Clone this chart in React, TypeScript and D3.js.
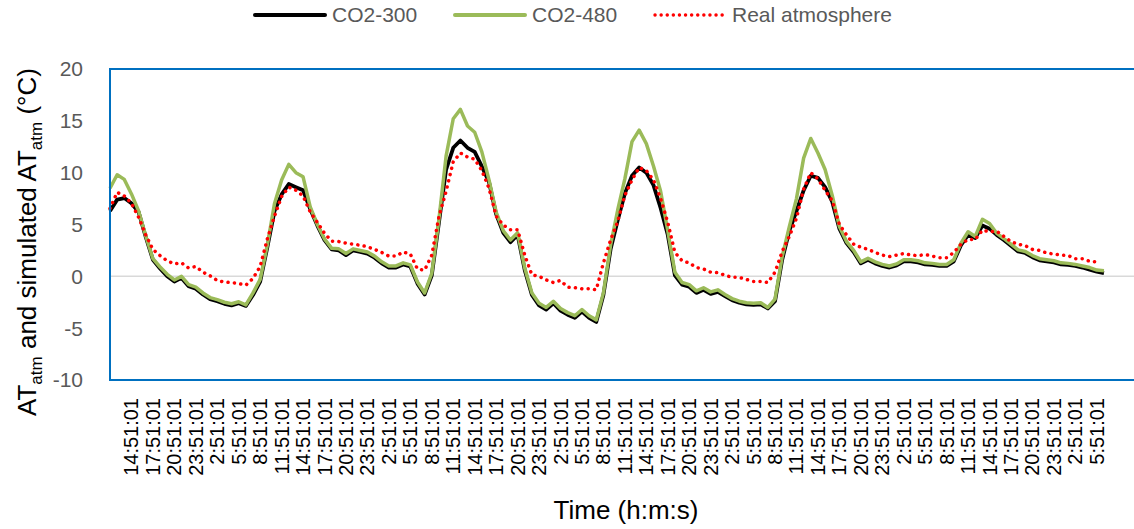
import React from "react";
import * as d3 from "d3";

const W = 1134;
const H = 529;

// hourly samples, hour 0 = 11:51:01 of the first day
const co2_300: number[] = [
  6.3, 7.4, 7.55, 7.05, 6.2, 3.8, 1.6, 0.75, 0.0, -0.5,
  -0.15, -0.95, -1.2, -1.75, -2.2, -2.4, -2.65, -2.8, -2.6, -2.85,
  -1.8, -0.5, 2.8, 6.3, 7.9, 8.9, 8.6, 8.3, 6.5, 4.9,
  3.5, 2.6, 2.5, 2.05, 2.5, 2.35, 2.2, 1.8, 1.25, 0.85,
  0.85, 1.15, 0.95, -0.7, -1.75, 0.1, 5.2, 10.3, 12.4, 13.1,
  12.4, 12.0, 10.6, 9.1, 6.0, 4.2, 3.3, 4.0, 0.6, -1.8,
  -2.8, -3.2, -2.6, -3.3, -3.7, -4.0, -3.4, -4.0, -4.4, -1.8,
  2.6, 5.4, 8.0, 9.7, 10.5, 10.0, 8.8, 6.6, 4.0, 0.1,
  -0.8, -1.0, -1.6, -1.3, -1.7, -1.5, -1.9, -2.3, -2.55, -2.7,
  -2.75, -2.7, -3.1, -2.4, 1.6, 4.4, 6.3, 8.3, 9.7, 9.5,
  8.6, 7.2, 4.6, 3.2, 2.35, 1.25, 1.6, 1.25, 1.0, 0.85,
  1.05, 1.45, 1.45, 1.35, 1.15, 1.1, 1.0, 1.0, 1.45, 3.0,
  4.0, 3.7, 4.9, 4.6, 4.0, 3.5, 2.95, 2.4, 2.25, 1.85,
  1.55, 1.45, 1.35, 1.15, 1.1, 1.0, 0.85, 0.65, 0.45, 0.3,
];

const co2_480: number[] = [
  8.5, 9.8, 9.35, 7.95, 6.3, 3.9, 1.7, 0.9, 0.2, -0.35,
  0.0, -0.8, -1.05, -1.6, -2.05, -2.25, -2.5, -2.65, -2.45, -2.75,
  -1.6, -0.3, 3.0, 7.0, 9.3, 10.8, 10.0, 9.6, 6.7, 5.0,
  3.6, 2.7, 2.65, 2.2, 2.65, 2.5, 2.35, 1.95, 1.4, 1.0,
  1.0, 1.3, 1.1, -0.55, -1.6, 0.3, 5.5, 11.6, 15.2, 16.1,
  14.5, 13.9, 12.0, 9.3, 6.2, 4.4, 3.5, 4.2, 0.8, -1.6,
  -2.6, -3.0, -2.4, -3.1, -3.5, -3.8, -3.2, -3.8, -4.2, -1.6,
  3.0, 6.4, 9.4, 13.0, 14.1, 12.8, 10.65, 8.2, 4.4, 0.4,
  -0.6, -0.8, -1.4, -1.1, -1.5, -1.3, -1.75, -2.15, -2.4, -2.55,
  -2.6, -2.55, -3.0, -2.2, 1.9, 4.8, 7.5, 11.4, 13.3, 11.9,
  10.3, 7.8, 4.8, 3.35, 2.5, 1.4, 1.75, 1.4, 1.15, 1.0,
  1.2, 1.6, 1.6, 1.5, 1.3, 1.25, 1.15, 1.15, 1.6, 3.2,
  4.3, 3.85, 5.5, 5.1, 4.15, 3.65, 3.1, 2.55, 2.4, 2.0,
  1.7, 1.6, 1.5, 1.3, 1.25, 1.15, 1.0, 0.85, 0.6, 0.55,
];

const realAtmosphere: number[] = [
  6.55, 8.1, 7.75, 7.05, 5.7, 4.0, 2.6, 2.0, 1.5, 1.2,
  1.3, 0.8, 0.95, 0.4, 0.05, -0.4, -0.55, -0.6, -0.7, -0.85,
  -0.2, 0.95, 3.6, 5.8, 7.7, 8.6, 8.3, 7.75, 6.2, 5.2,
  4.15, 3.4, 3.35, 3.2, 3.1, 3.0, 2.85, 2.6, 2.3, 1.95,
  1.95, 2.35, 2.15, 0.7, 0.6, 2.05, 5.75, 8.2, 11.05, 11.9,
  11.5, 11.3, 10.2, 8.5, 5.8, 4.95, 4.5, 4.5, 2.05, 0.15,
  0.0, -0.35, -0.6, -0.4, -1.05, -1.1, -1.2, -1.2, -1.3, 1.3,
  3.5, 5.3, 7.8, 9.3, 10.5, 10.2, 9.3, 7.5, 5.2, 2.3,
  1.5, 1.3, 0.85, 0.7, 0.4, 0.35, 0.1, -0.1, -0.1, -0.3,
  -0.5, -0.5, -0.6, 0.4, 2.4, 3.85, 5.6, 8.4, 10.0, 9.4,
  8.3, 7.3, 5.0, 4.0, 3.1, 2.8, 2.6, 2.3, 2.05, 1.9,
  2.05, 2.2, 2.05, 2.0, 2.1, 1.95, 1.8, 1.8, 2.3, 3.1,
  3.55, 3.55, 4.45, 4.3, 4.35, 3.85, 3.35, 3.1, 2.95, 2.6,
  2.5, 2.25, 2.15, 2.05, 2.0, 1.7, 1.7, 1.45, 1.4,
];

const tickLabels: string[] = [
  "14:51:01", "17:51:01", "20:51:01", "23:51:01", "2:51:01", "5:51:01", "8:51:01", "11:51:01",
  "14:51:01", "17:51:01", "20:51:01", "23:51:01", "2:51:01", "5:51:01", "8:51:01", "11:51:01",
  "14:51:01", "17:51:01", "20:51:01", "23:51:01", "2:51:01", "5:51:01", "8:51:01", "11:51:01",
  "14:51:01", "17:51:01", "20:51:01", "23:51:01", "2:51:01", "5:51:01", "8:51:01", "11:51:01",
  "14:51:01", "17:51:01", "20:51:01", "23:51:01", "2:51:01", "5:51:01", "8:51:01", "11:51:01",
  "14:51:01", "17:51:01", "20:51:01", "23:51:01", "2:51:01", "5:51:01",
];
const tickHours: number[] = tickLabels.map((_, i) => 3 + 3 * i);
const yTicks: number[] = [-10, -5, 0, 5, 10, 15, 20];

const FONT = "'Liberation Sans', Arial, sans-serif";

export default function App() {
  const left = 110;
  const top = 69;
  const bottom = 380;
  const x = d3.scaleLinear().domain([0, 143.2]).range([left, 1134]);
  const y = d3.scaleLinear().domain([-10, 20]).range([bottom, top]);
  const line = d3
    .line<number>()
    .x((_, i) => x(i))
    .y((d) => y(d));

  const legend = [
    { label: "CO2-300", x: 255, color: "#000000", width: 4, dash: undefined },
    { label: "CO2-480", x: 455, color: "#9BBB59", width: 4, dash: undefined },
    { label: "Real atmosphere", x: 655, color: "#FF0000", width: 3.4, dash: "0.1 6" },
  ];

  return (
    <svg
      width={W}
      height={H}
      style={{ position: "absolute", left: 0, top: 0, display: "block", background: "#fff" }}
      fontFamily={FONT}
    >
      {/* legend */}
      {legend.map((l) => (
        <g key={l.label}>
          <line
            x1={l.x}
            x2={l.x + 70}
            y1={15}
            y2={15}
            stroke={l.color}
            strokeWidth={l.width}
            strokeDasharray={l.dash}
            strokeLinecap="round"
          />
          <text x={l.x + 77} y={15} dy="0.35em" fontSize={21} fill="#595959">
            {l.label}
          </text>
        </g>
      ))}

      {/* zero gridline */}
      <line x1={left} x2={1134} y1={y(0)} y2={y(0)} stroke="#D9D9D9" strokeWidth={1.5} />

      {/* series */}
      <path d={line(co2_300) || ""} fill="none" stroke="#000000" strokeWidth={3.8} strokeLinejoin="round" />
      <path d={line(co2_480) || ""} fill="none" stroke="#9BBB59" strokeWidth={3.5} strokeLinejoin="round" />
      <path
        d={line(realAtmosphere) || ""}
        fill="none"
        stroke="#FF0000"
        strokeWidth={3.5}
        strokeDasharray="0.1 6.3"
        strokeLinecap="round"
        strokeLinejoin="round"
      />

      {/* plot border */}
      <rect x={left} y={top} width={1040} height={bottom - top} fill="none" stroke="#0070C0" strokeWidth={2} />

      {/* y ticks */}
      {yTicks.map((t) => (
        <text key={t} x={83} y={y(t)} dy="0.35em" textAnchor="end" fontSize={21} fill="#595959">
          {t}
        </text>
      ))}

      {/* x ticks */}
      {tickHours.map((h, i) => (
        <text
          key={i}
          transform={`translate(${x(h)},398) rotate(-90)`}
          textAnchor="end"
          dy="0.35em"
          fontSize={20}
          fill="#000000"
        >
          {tickLabels[i]}
        </text>
      ))}

      {/* axis titles */}
      <text transform="translate(36,242) rotate(-90)" textAnchor="middle" fontSize={26} fill="#000">
        <tspan>AT</tspan>
        <tspan fontSize={17} dy={6}>atm</tspan>
        <tspan dy={-6}> and simulated AT</tspan>
        <tspan fontSize={17} dy={6}>atm</tspan>
        <tspan dy={-6}> (°C)</tspan>
      </text>
      <text x={626} y={519} textAnchor="middle" fontSize={26} fill="#000">
        Time (h:m:s)
      </text>
    </svg>
  );
}
